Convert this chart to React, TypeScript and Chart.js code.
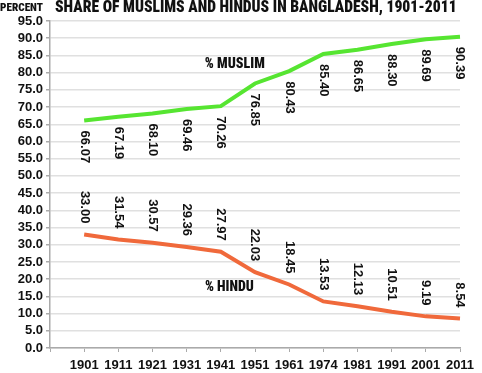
import React, { useEffect, useRef } from "react";
import { Chart, registerables } from "chart.js";

Chart.register(...registerables);

const years = ["1901", "1911", "1921", "1931", "1941", "1951", "1961", "1974", "1981", "1991", "2001", "2011"];
const muslim = [66.07, 67.19, 68.1, 69.46, 70.26, 76.85, 80.43, 85.4, 86.65, 88.3, 89.69, 90.39];
const hindu = [33.0, 31.54, 30.57, 29.36, 27.97, 22.03, 18.45, 13.53, 12.13, 10.51, 9.19, 8.54];
const muslimLabels = ["66.07", "67.19", "68.10", "69.46", "70.26", "76.85", "80.43", "85.40", "86.65", "88.30", "89.69", "90.39"];
const hinduLabels = ["33.00", "31.54", "30.57", "29.36", "27.97", "22.03", "18.45", "13.53", "12.13", "10.51", "9.19", "8.54"];
const titleText = "SHARE OF MUSLIMS AND HINDUS IN BANGLADESH, 1901-2011";
const axisTitle = "PERCENT";
const seriesNames = ["% MUSLIM", "% HINDU"];
// annotation anchors in data space: [category index (with leading blank), value]
const seriesNameAnchors = [[5.41, 82.3], [5.25, 17.7]];

const GREEN = "#56e531";
const ORANGE = "#f0693b";
const COND = "'Roboto Condensed', 'DejaVu Sans Condensed', sans-serif";
const SANS = "'Liberation Sans', Arial, sans-serif";

function fitText(ctx: any, text: string, width: number, base: number) {
  ctx.font = `900 ${base}px ${COND}`;
  const w = ctx.measureText(text).width;
  const size = (base * width) / w;
  ctx.font = `900 ${size}px ${COND}`;
}

const labelsPlugin = {
  id: "customText",
  afterDatasetsDraw(chart: any) {
    const ctx = chart.ctx;
    const xs = chart.scales.x;
    const ys = chart.scales.y;
    ctx.save();
    ctx.fillStyle = "#111";
    ctx.font = `bold 13px ${SANS}`;
    ctx.textBaseline = "middle";
    const drawSet = (vals: number[], labs: string[], below: boolean) => {
      vals.forEach((v, i) => {
        const px = xs.getPixelForValue(i + 1);
        const py = ys.getPixelForValue(v);
        ctx.save();
        ctx.translate(px, below ? py + 10 : py - 11);
        ctx.rotate(Math.PI / 2);
        ctx.textAlign = below ? "left" : "right";
        ctx.fillText(labs[i], 0, 0);
        ctx.restore();
      });
    };
    drawSet(muslim, muslimLabels, true);
    drawSet(hindu, hinduLabels, false);

    ctx.textAlign = "center";
    seriesNames.forEach((n, k) => {
      const [ix, v] = seriesNameAnchors[k];
      fitText(ctx, n, k === 0 ? 60 : 49, 14);
      ctx.fillText(n, xs.getPixelForValue(ix), ys.getPixelForValue(v));
    });

    ctx.textAlign = "left";
    fitText(ctx, titleText, 402, 16);
    ctx.fillText(titleText, 55, 8);
    fitText(ctx, axisTitle, 43, 10);
    ctx.fillText(axisTitle, 0, 8);
    ctx.restore();
  },
};

export default function App() {
  const ref = useRef<HTMLCanvasElement | null>(null);
  useEffect(() => {
    if (!ref.current) return;
    const chart = new Chart(ref.current, {
      type: "line",
      data: {
        labels: ["", ...years],
        datasets: [
          {
            label: "Muslim",
            data: [null, ...muslim],
            borderColor: GREEN,
            backgroundColor: GREEN,
            borderWidth: 4,
            pointRadius: 0,
            tension: 0,
          },
          {
            label: "Hindu",
            data: [null, ...hindu],
            borderColor: ORANGE,
            backgroundColor: ORANGE,
            borderWidth: 4,
            pointRadius: 0,
            tension: 0,
          },
        ],
      },
      options: {
        animation: false,
        responsive: true,
        maintainAspectRatio: false,
        layout: { padding: { top: 21, right: 22, left: 0, bottom: 0 } },
        plugins: { legend: { display: false }, tooltip: { enabled: false }, title: { display: false } },
        scales: {
          x: {
            offset: false,
            afterFit: (s: any) => { s.height = 25; },
            grid: { drawOnChartArea: false, drawTicks: true, tickLength: 4, tickColor: "#aaa", color: "#aaa" },
            border: { color: "#aaa", width: 1.5 },
            ticks: { color: "#111", font: { family: SANS, weight: "bold", size: 13 }, padding: 6, maxRotation: 0, autoSkip: false },
          },
          y: {
            min: 0,
            max: 95,
            afterFit: (s: any) => { s.width = 50; },
            grid: { color: "#e0e0e0", lineWidth: 1.5, tickLength: 4, tickColor: "#aaa" },
            border: { color: "#aaa", width: 1.5 },
            ticks: {
              stepSize: 5,
              autoSkip: false,
              color: "#111",
              font: { family: SANS, weight: "bold", size: 13 },
              padding: 3,
              callback: (v: any) => Number(v).toFixed(1),
            },
          },
        },
      },
      plugins: [labelsPlugin],
    } as any);
    return () => chart.destroy();
  }, []);
  return (
    <div style={{ position: "fixed", left: 0, top: 0, width: 482, height: 373, background: "#fff" }}>
      <canvas ref={ref} />
    </div>
  );
}
